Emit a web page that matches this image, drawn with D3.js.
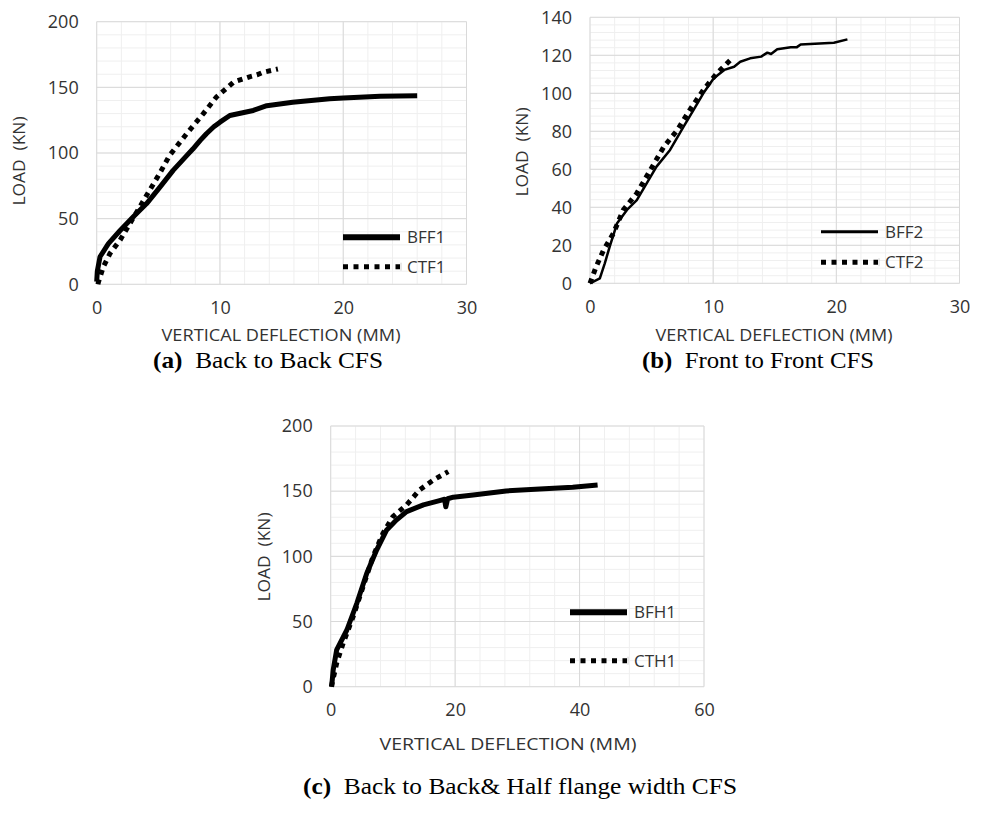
<!DOCTYPE html>
<html>
<head>
<meta charset="utf-8">
<script src="https://cdn.jsdelivr.net/npm/d3@7"></script>
<style>
  body { margin: 0; background: #fff; }
  svg { display: block; }
</style>
</head>
<body>
<div id="wrap"></div>
<script>
// deflection (mm) / load (kN)
var bff1Defl = [0, 0.05, 0.27, 0.95, 1.9, 2.97, 4.05, 5.13, 6.2, 7.3, 7.8, 8.4, 8.9, 9.5, 10.0, 10.8, 12.7, 13.8, 15.9, 18.9, 20.0, 23.0, 26.0];
var bff1Load = [2, 10, 21, 31, 41, 51.4, 61.5, 74, 86.8, 98, 103, 109.6, 114.7, 120, 123.5, 128.6, 132.4, 136, 138.7, 141.3, 141.8, 143.2, 143.6];
var ctf1Defl = [0.1, 0.15, 0.54, 1.08, 1.9, 2.7, 3.5, 4.3, 5.1, 5.9, 7.3, 8.65, 9.7, 10.5, 11.1, 12.4, 13.0, 13.5, 14.7];
var ctf1Load = [0, 2, 13.4, 23.5, 33.7, 46.4, 59, 71.7, 84.3, 98, 114.7, 130, 142.5, 149, 154, 158, 159.5, 161.5, 164];

var bff2Defl = [0, 0.8, 1.2, 1.6, 2.2, 3.0, 3.8, 4.6, 5.4, 6.5, 7.6, 8.4, 9.2, 10.05, 10.9, 11.7, 12.2, 13.0, 13.9, 14.4, 14.7, 15.2, 16.3, 16.8, 17.1, 19.8, 20.9];
var bff2Load = [0, 2.6, 10.5, 19.3, 31.6, 38.6, 43.8, 52.6, 61.4, 70.2, 82.4, 91.2, 100, 107.9, 112.3, 114, 116.6, 118.4, 119.3, 121.4, 120.7, 123.2, 124.2, 124.3, 125.7, 126.6, 128.4];
var ctf2Defl = [0, 0.5, 1.1, 1.9, 2.7, 3.8, 4.9, 6.0, 7.1, 8.1, 9.2, 10.3, 11.4];
var ctf2Load = [0, 8.7, 17.5, 26.3, 38.6, 47.4, 59.6, 71.9, 80.7, 91.2, 101.7, 110.5, 117.5];

var bfh1Defl = [0.15, 0.4, 0.96, 2.6, 4.2, 5.8, 7.4, 9.0, 10.6, 12.2, 14.9, 17.5, 18.3, 18.5, 18.8, 19.7, 22.9, 28.2, 33.6, 38.9, 42.9];
var bfh1Load = [0, 12.8, 28.2, 43.5, 64, 87, 105, 120.3, 128, 134.3, 139.5, 142.8, 143.8, 138, 144.2, 145.4, 147, 150.2, 151.7, 153, 154.8];
var cth1Defl = [0.1, 0.96, 2.0, 3.6, 5.2, 6.8, 8.4, 10.0, 12.2, 14.3, 16.5, 18.9];
var cth1Load = [0, 18, 33.3, 53.7, 76.7, 99.8, 117.7, 130.5, 139.5, 151, 158.6, 165];

var ticksA = [0, 10, 20, 30], loadTicksA = [0, 50, 100, 150, 200];
var ticksB = [0, 10, 20, 30], loadTicksB = [0, 20, 40, 60, 80, 100, 120, 140];
var ticksC = [0, 20, 40, 60], loadTicksC = [0, 50, 100, 150, 200];

function zip(xs, ys) { return xs.map(function(x, i) { return [x, ys[i]]; }); }

var W = 984, H = 816;
var svg = d3.select("#wrap").append("svg").attr("width", W).attr("height", H);
var sans = "'Open Sans', 'DejaVu Sans', sans-serif";
var serif = "'Liberation Serif', 'Times New Roman', serif";
var ink = "#333";

function panel(c) {
  var x = d3.scaleLinear().domain([0, c.xTicks[c.xTicks.length - 1]]).range([c.left, c.right]);
  var y = d3.scaleLinear().domain([0, c.yTicks[c.yTicks.length - 1]]).range([c.bottom, c.top]);
  var g = svg.append("g");

  // minor grid
  g.selectAll(".mx").data(d3.range(0, x.domain()[1] + 0.001, c.xMinor)).enter().append("line")
    .attr("x1", function(d) { return x(d); }).attr("x2", function(d) { return x(d); })
    .attr("y1", c.top).attr("y2", c.bottom).attr("stroke", "#efefef").attr("stroke-width", 1);
  g.selectAll(".my").data(d3.range(0, y.domain()[1] + 0.001, c.yMinor)).enter().append("line")
    .attr("y1", function(d) { return y(d); }).attr("y2", function(d) { return y(d); })
    .attr("x1", c.left).attr("x2", c.right).attr("stroke", "#efefef").attr("stroke-width", 1);
  // major grid
  g.selectAll(".Mx").data(c.xTicks).enter().append("line")
    .attr("x1", function(d) { return x(d); }).attr("x2", function(d) { return x(d); })
    .attr("y1", c.top).attr("y2", c.bottom).attr("stroke", "#d9d9d9").attr("stroke-width", 1);
  g.selectAll(".My").data(c.yTicks).enter().append("line")
    .attr("y1", function(d) { return y(d); }).attr("y2", function(d) { return y(d); })
    .attr("x1", c.left).attr("x2", c.right).attr("stroke", "#d9d9d9").attr("stroke-width", 1);

  // axes (labels only, Excel style)
  var ax = g.append("g").attr("transform", "translate(0," + c.bottom + ")")
    .call(d3.axisBottom(x).tickValues(c.xTicks).tickSize(0).tickPadding(17));
  var ay = g.append("g").attr("transform", "translate(" + c.left + ",0)")
    .call(d3.axisLeft(y).tickValues(c.yTicks).tickSize(0).tickPadding(18));
  [ax, ay].forEach(function(a) {
    a.select(".domain").remove();
    a.selectAll("text").attr("font-family", sans).attr("font-size", 18).attr("fill", ink);
  });

  var line = d3.line().x(function(d) { return x(d[0]); }).y(function(d) { return y(d[1]); });
  g.append("path").datum(c.solid).attr("d", line).attr("fill", "none")
    .attr("stroke", "#000").attr("stroke-width", c.solidW).attr("stroke-linejoin", "round");
  g.append("path").datum(c.dotted).attr("d", line).attr("fill", "none")
    .attr("stroke", "#000").attr("stroke-width", 5).attr("stroke-dasharray", "5,5");

  // legend
  var lg = g.append("g");
  lg.append("line").attr("x1", c.legX).attr("x2", c.legX + 57).attr("y1", c.legY1).attr("y2", c.legY1)
    .attr("stroke", "#000").attr("stroke-width", c.legSolidW);
  lg.append("line").attr("x1", c.legX).attr("x2", c.legX + 57).attr("y1", c.legY2).attr("y2", c.legY2)
    .attr("stroke", "#000").attr("stroke-width", 5).attr("stroke-dasharray", "5,5.5");
  lg.append("line").attr("x1", c.legX + 58).attr("x2", c.legX + 58).attr("y1", c.legY2 - 4).attr("y2", c.legY2 + 4)
    .attr("stroke", "#d0d0d0").attr("stroke-width", 1);
  lg.selectAll("text").data(c.names).enter().append("text")
    .attr("x", c.legX + 64).attr("y", function(d, i) { return i ? c.legY2 : c.legY1; })
    .attr("dy", "0.36em").attr("font-family", sans).attr("font-size", 17).attr("fill", ink)
    .text(function(d) { return d; });

  // axis titles
  g.append("text").attr("transform", "translate(" + c.yTitleX + "," + c.yTitleY + ") rotate(-90)")
    .attr("text-anchor", "middle").attr("font-family", sans).attr("font-size", 17).attr("fill", ink)
    .attr("textLength", 89).attr("lengthAdjust", "spacingAndGlyphs")
    .attr("xml:space", "preserve").text("LOAD  (KN)");
  g.append("text").attr("x", c.xTitleX).attr("y", c.xTitleY).attr("text-anchor", "middle")
    .attr("font-family", sans).attr("font-size", 17).attr("fill", ink)
    .attr("textLength", c.xTitleLen).attr("lengthAdjust", "spacingAndGlyphs")
    .text("VERTICAL DEFLECTION (MM)");

  // caption
  var cap = g.append("text").attr("x", c.capX).attr("y", c.capY).attr("text-anchor", "middle")
    .attr("font-family", serif).attr("font-size", c.capSize).attr("fill", "#000")
    .attr("textLength", c.capLen).attr("lengthAdjust", "spacingAndGlyphs");
  cap.append("tspan").attr("font-weight", "bold").text(c.capTag);
  cap.append("tspan").attr("xml:space", "preserve").text("  " + c.capText);
}

panel({
  left: 96.7, right: 466.5, top: 21.7, bottom: 284.3,
  xTicks: ticksA, yTicks: loadTicksA, xMinor: 2, yMinor: 10,
  solid: zip(bff1Defl, bff1Load), dotted: zip(ctf1Defl, ctf1Load), solidW: 5,
  names: ["BFF1", "CTF1"], legX: 343, legY1: 237.3, legY2: 266.7, legSolidW: 6,
  yTitleX: 25, yTitleY: 161, xTitleX: 281, xTitleY: 341, xTitleLen: 239,
  capX: 268, capY: 368, capSize: 24, capLen: 230, capTag: "(a)", capText: "Back to Back CFS"
});
panel({
  left: 590, right: 959.5, top: 17.3, bottom: 283.3,
  xTicks: ticksB, yTicks: loadTicksB, xMinor: 2, yMinor: 4,
  solid: zip(bff2Defl, bff2Load), dotted: zip(ctf2Defl, ctf2Load), solidW: 2.5,
  names: ["BFF2", "CTF2"], legX: 821, legY1: 231.7, legY2: 262.3, legSolidW: 3,
  yTitleX: 528, yTitleY: 152, xTitleX: 774, xTitleY: 341, xTitleLen: 237,
  capX: 758, capY: 368, capSize: 24, capLen: 232, capTag: "(b)", capText: "Front to Front CFS"
});
panel({
  left: 330.7, right: 704, top: 426, bottom: 686.7,
  xTicks: ticksC, yTicks: loadTicksC, xMinor: 4, yMinor: 10,
  solid: zip(bfh1Defl, bfh1Load), dotted: zip(cth1Defl, cth1Load), solidW: 5,
  names: ["BFH1", "CTH1"], legX: 570, legY1: 612.3, legY2: 660.7, legSolidW: 6,
  yTitleX: 270, yTitleY: 557, xTitleX: 508, xTitleY: 750, xTitleLen: 257,
  capX: 520, capY: 794, capSize: 24, capLen: 434, capTag: "(c)", capText: "Back to Back& Half flange width CFS"
});
</script>
</body>
</html>
